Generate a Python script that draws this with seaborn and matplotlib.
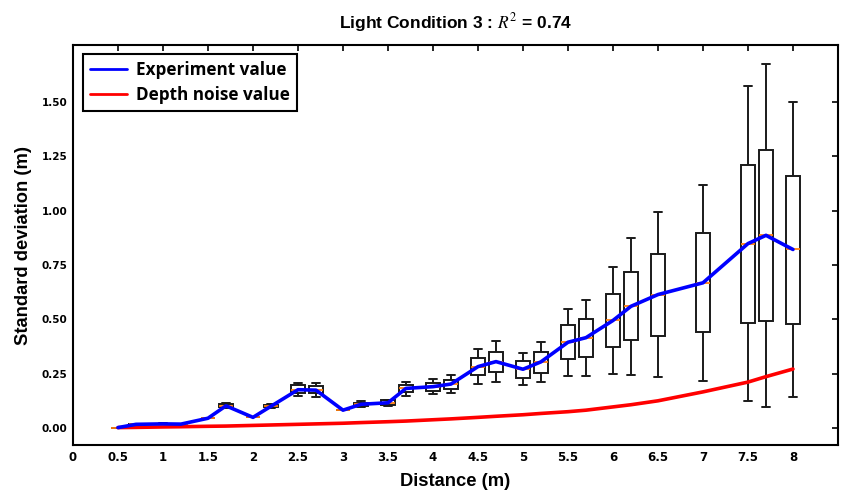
import numpy as np
import pandas as pd
import matplotlib
matplotlib.use("Agg")
import matplotlib.pyplot as plt
import seaborn as sns
from matplotlib.ticker import FuncFormatter, FormatStrFormatter

# ---- data ----
distance = [0.5, 0.7, 1.0, 1.2, 1.5, 1.7, 2.0, 2.2, 2.5, 2.7, 3.0, 3.2, 3.5, 3.7,
            4.0, 4.2, 4.5, 4.7, 5.0, 5.2, 5.5, 5.7, 6.0, 6.2, 6.5, 7.0, 7.5, 7.7, 8.0]
whisker_low = [0.003, 0.016, 0.018, 0.017, 0.046, 0.092, 0.050, 0.091, 0.148, 0.145,
               0.083, 0.097, 0.104, 0.150, 0.155, 0.163, 0.202, 0.212, 0.197, 0.212,
               0.238, 0.241, 0.249, 0.245, 0.237, 0.218, 0.123, 0.098, 0.145]
q1 = [0.003, 0.017, 0.019, 0.018, 0.046, 0.097, 0.050, 0.096, 0.162, 0.160,
      0.083, 0.102, 0.108, 0.165, 0.171, 0.180, 0.243, 0.258, 0.232, 0.255,
      0.317, 0.327, 0.372, 0.403, 0.425, 0.442, 0.483, 0.491, 0.480]
median = [0.003, 0.018, 0.020, 0.019, 0.046, 0.103, 0.050, 0.101, 0.177, 0.175,
          0.083, 0.110, 0.117, 0.183, 0.191, 0.203, 0.283, 0.306, 0.271, 0.305,
          0.395, 0.416, 0.495, 0.560, 0.614, 0.668, 0.848, 0.886, 0.821]
q3 = [0.003, 0.019, 0.021, 0.020, 0.046, 0.110, 0.050, 0.108, 0.197, 0.194,
      0.083, 0.118, 0.128, 0.198, 0.208, 0.222, 0.323, 0.352, 0.309, 0.351,
      0.472, 0.501, 0.618, 0.717, 0.801, 0.896, 1.210, 1.280, 1.160]
whisker_high = [0.003, 0.020, 0.022, 0.021, 0.046, 0.116, 0.050, 0.113, 0.210, 0.206,
                0.083, 0.123, 0.132, 0.214, 0.227, 0.245, 0.365, 0.400, 0.345, 0.397,
                0.549, 0.588, 0.742, 0.872, 0.991, 1.117, 1.572, 1.672, 1.498]
experiment_value = median
depth_noise = [0.003, 0.004, 0.006, 0.007, 0.009, 0.010, 0.013, 0.015, 0.018, 0.020,
               0.023, 0.026, 0.030, 0.033, 0.039, 0.043, 0.050, 0.055, 0.062, 0.068,
               0.076, 0.083, 0.098, 0.108, 0.126, 0.167, 0.212, 0.237, 0.272]

x_ticks = [0, 0.5, 1, 1.5, 2, 2.5, 3, 3.5, 4, 4.5, 5, 5.5, 6, 6.5, 7, 7.5, 8]
y_ticks = [0.00, 0.25, 0.50, 0.75, 1.00, 1.25, 1.50]

# ---- build tables ----
rows = []
for d, a, b, c, e, f in zip(distance, whisker_low, q1, median, q3, whisker_high):
    for v in (a, b, c, e, f):
        rows.append({"distance": d, "std": v})
box_df = pd.DataFrame(rows)
line_df = pd.DataFrame({"distance": distance,
                        "experiment": experiment_value,
                        "noise": depth_noise})

sns.set_style("white")
plt.rcParams["font.family"] = ["DejaVu Sans"]
plt.rcParams["mathtext.fontset"] = "stix"
plt.rcParams["text.color"] = "black"
plt.rcParams["axes.labelcolor"] = "black"
plt.rcParams["xtick.color"] = "black"
plt.rcParams["ytick.color"] = "black"

fig = plt.figure(figsize=(8.41, 4.92), dpi=100)
ax = fig.add_axes([0.0868, 0.0955, 0.9096, 0.813])

sns.boxplot(data=box_df, x="distance", y="std", native_scale=True, whis=(0, 100),
            color="white", linecolor="#1a1a1a", linewidth=1.4, width=0.8,
            showfliers=False, saturation=1,
            medianprops={"color": "#ff7f0e", "linewidth": 1.3}, ax=ax)

sns.lineplot(data=line_df, x="distance", y="experiment", color="#0000ff",
             linewidth=2.6, label="Experiment value", ax=ax, zorder=6)
sns.lineplot(data=line_df, x="distance", y="noise", color="#ff0000",
             linewidth=2.6, label="Depth noise value", ax=ax, zorder=5)

ax.set_xlim(0, 8.5)
ax.set_ylim(-0.077, 1.76)
ax.set_xticks(x_ticks)
ax.xaxis.set_major_formatter(FuncFormatter(lambda v, p: f"{v:g}"))
ax.set_yticks(y_ticks)
ax.yaxis.set_major_formatter(FormatStrFormatter("%.2f"))

ax.tick_params(direction="in", top=True, right=True, length=4, width=1.2,
               colors="black", labelcolor="black", pad=4)
for lab in ax.get_xticklabels():
    lab.set_fontweight("bold")
    lab.set_fontsize(8.5)
    lab.set_color("black")
for lab in ax.get_yticklabels():
    lab.set_fontweight("bold")
    lab.set_fontsize(7.5)
    lab.set_color("black")

for sp in ax.spines.values():
    sp.set_visible(True)
    sp.set_color("black")
    sp.set_linewidth(1.5)

ax.set_xlabel("Distance (m)", fontsize=13.2, fontweight="bold", color="black",
              family=["Liberation Sans"], labelpad=7)
ax.set_ylabel("Standard deviation (m)", fontsize=13.2, fontweight="bold", color="black",
              family=["Liberation Sans"], labelpad=7)
ax.set_title(r"Light Condition 3 : $R^2$ = 0.74", fontsize=12.5, fontweight="bold",
             color="black", family=["Liberation Sans"], pad=12)

leg = ax.legend(loc="upper left", bbox_to_anchor=(0.013, 0.978), borderaxespad=0,
                frameon=True, fancybox=False, edgecolor="black", framealpha=1,
                prop={"family": "Open Sans", "weight": "bold", "size": 12.3},
                handlelength=2.2, handletextpad=0.5, borderpad=0.4, labelspacing=0.45)
leg.get_frame().set_linewidth(1.5)
for h in leg.get_lines():
    h.set_linewidth(2)
for t in leg.get_texts():
    t.set_color("black")

fig.savefig("out.png", dpi=100)
